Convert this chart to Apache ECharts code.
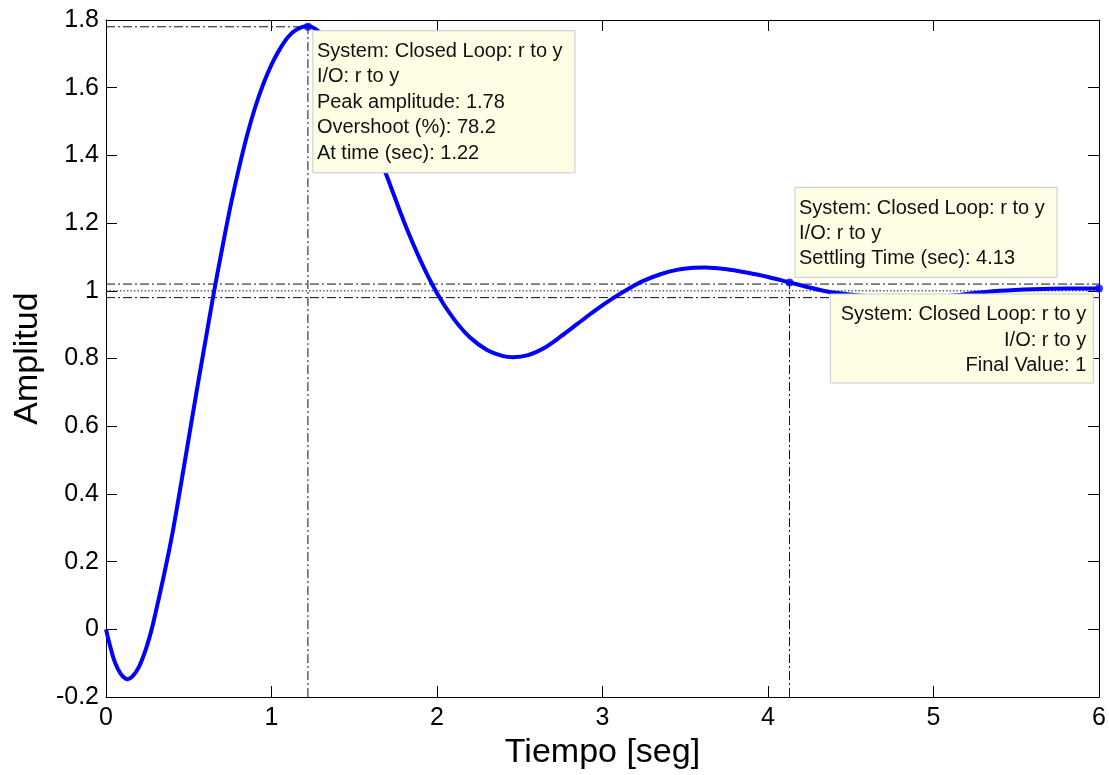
<!DOCTYPE html>
<html>
<head>
<meta charset="utf-8">
<script src="https://cdn.jsdelivr.net/npm/echarts@6/dist/echarts.min.js"></script>
<style>html,body{margin:0;padding:0;background:#fff;}#c{width:1109px;height:775px;}</style>
</head>
<body>
<div id="c"></div>
<script>
// ---- data ----
const timeSec = [0.00,0.02,0.045,0.07,0.10,0.13,0.16,0.20,0.24,0.276,0.30,0.35,0.40,0.45,0.50,0.55,0.60,0.65,0.70,0.75,0.80,0.85,0.90,0.95,1.00,1.05,1.10,1.15,1.22,1.30,1.40,1.50,1.60,1.70,1.80,1.90,2.00,2.10,2.20,2.30,2.40,2.46,2.55,2.65,2.75,2.85,2.95,3.05,3.15,3.25,3.35,3.45,3.55,3.62,3.75,3.87,4.00,4.13,4.25,4.35,4.50,4.60,4.75,4.90,5.05,5.20,5.40,5.60,5.80,6.00];
const amplitude = [0.000,-0.040,-0.085,-0.115,-0.138,-0.147,-0.139,-0.110,-0.060,0.000,0.050,0.160,0.280,0.420,0.565,0.710,0.850,0.990,1.120,1.245,1.355,1.455,1.540,1.610,1.668,1.714,1.750,1.771,1.782,1.760,1.690,1.585,1.460,1.335,1.205,1.090,0.993,0.918,0.862,0.826,0.807,0.804,0.810,0.832,0.866,0.903,0.940,0.974,1.004,1.030,1.049,1.062,1.068,1.069,1.064,1.054,1.041,1.025,1.010,0.999,0.989,0.984,0.980,0.979,0.982,0.991,1.000,1.005,1.007,1.007];
const peakTime = 1.22, peakAmp = 1.78;
const settleTime = 4.13, settleAmp = 1.025;
const finalTime = 6.0, finalAmp = 1.007;
const finalValue = 1.0;
const bandLow = 0.98, bandHigh = 1.02;
const xTicks = {min: 0, max: 6, step: 1};
const yTicks = {min: -0.2, max: 1.8, step: 0.2};
const tipPeak = ['System: Closed Loop: r to y','I/O: r to y','Peak amplitude: 1.78','Overshoot (%): 78.2','At time (sec): 1.22'];
const tipSettle = ['System: Closed Loop: r to y','I/O: r to y','Settling Time (sec): 4.13'];
const tipFinal = ['System: Closed Loop: r to y','I/O: r to y','Final Value: 1'];

const FONT = '"Liberation Sans", Arial, sans-serif';
const curve = timeSec.map((t, i) => [t, amplitude[i]]);
const dashDot = [9, 3, 2, 3];
function refLine(data, type) {
  return {type: 'line', data, showSymbol: false, silent: true, z: 1,
    lineStyle: {color: '#111', width: 1, type: type}, animation: false};
}
function axisCommon() {
  return {
    axisLine: {show: true, onZero: false, lineStyle: {color: '#000', width: 1}},
    axisTick: {show: true, inside: true, length: 11, lineStyle: {color: '#000', width: 1}},
    splitLine: {show: false}
  };
}
const chart = echarts.init(document.getElementById('c'));
chart.setOption({
  animation: false,
  backgroundColor: '#fff',
  grid: {left: 106, right: 10, top: 20, bottom: 75, containLabel: false},
  xAxis: [
    Object.assign({type: 'value', min: xTicks.min, max: xTicks.max, interval: xTicks.step, position: 'bottom',
      name: 'Tiempo [seg]', nameLocation: 'middle', nameGap: 33,
      nameTextStyle: {fontFamily: FONT, fontSize: 34, color: '#000'},
      axisLabel: {fontFamily: FONT, fontSize: 25, color: '#000', margin: 9}}, axisCommon()),
    Object.assign({type: 'value', min: xTicks.min, max: xTicks.max, interval: xTicks.step, position: 'top',
      axisLabel: {show: false}}, axisCommon())
  ],
  yAxis: [
    Object.assign({type: 'value', min: yTicks.min, max: yTicks.max, interval: yTicks.step, position: 'left',
      name: 'Amplitud', nameLocation: 'middle', nameGap: 60, nameRotate: 90,
      nameTextStyle: {fontFamily: FONT, fontSize: 34, color: '#000'},
      axisLabel: {fontFamily: FONT, fontSize: 25, color: '#000', margin: 7,
        formatter: v => String(+v.toFixed(1))}}, axisCommon()),
    Object.assign({type: 'value', min: yTicks.min, max: yTicks.max, interval: yTicks.step, position: 'right',
      axisLabel: {show: false}}, axisCommon())
  ],
  series: [
    {type: 'line', data: curve, smooth: 0.3, showSymbol: false, z: 5,
      lineStyle: {color: '#0000ff', width: 4}},
    refLine([[xTicks.min, peakAmp], [peakTime, peakAmp]], dashDot),
    refLine([[peakTime, yTicks.min], [peakTime, peakAmp]], dashDot),
    refLine([[settleTime, yTicks.min], [settleTime, bandHigh]], dashDot),
    refLine([[xTicks.min, bandHigh], [xTicks.max, bandHigh]], dashDot),
    refLine([[xTicks.min, bandLow], [xTicks.max, bandLow]], dashDot),
    refLine([[xTicks.min, finalValue], [xTicks.max, finalValue]], [1.5, 2]),
    {type: 'scatter', data: [[peakTime, peakAmp], [settleTime, settleAmp], [finalTime, finalAmp]],
      symbol: 'circle', symbolSize: 8, itemStyle: {color: '#0000ff'}, z: 6, silent: true}
  ]
});

function tipBox(anchor, dx, dy, w, h, lines, alignRight) {
  const p = chart.convertToPixel({seriesIndex: 0}, anchor);
  const left = alignRight ? p[0] + dx - w : p[0] + dx;
  const top = dy >= 0 ? p[1] + dy : p[1] + dy - h;
  return [
    {type: 'rect', z: 100, shape: {x: left, y: top, width: w, height: h},
      style: {fill: '#ffffe6', stroke: '#c8c8c8', lineWidth: 1}},
    {type: 'text', z: 101, x: alignRight ? left + w - 7 : left + 4, y: top + 8,
      style: {text: lines.join('\n'), font: '20px ' + FONT, fill: '#111', lineHeight: 25.4,
        align: alignRight ? 'right' : 'left', verticalAlign: 'top'}}
  ];
}
chart.setOption({
  graphic: [].concat(
    tipBox([peakTime, peakAmp], 5, 4, 262, 142, tipPeak, false),
    tipBox([settleTime, settleAmp], 5.5, -5, 262, 90, tipSettle, false),
    tipBox([finalTime, finalAmp], -5.7, 5.5, 263, 89, tipFinal, true)
  )
});
</script>
</body>
</html>
